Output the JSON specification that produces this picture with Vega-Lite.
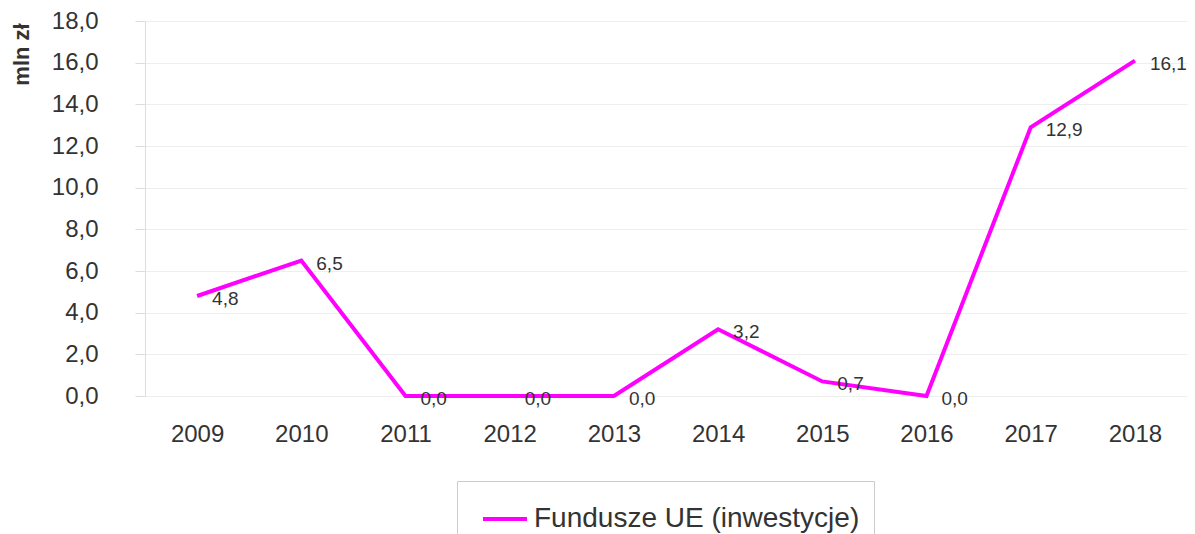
{
  "$schema": "https://vega.github.io/schema/vega-lite/v6.json",
  "width": 1042,
  "height": 375,
  "autosize": {"type": "none"},
  "padding": {"left": 145, "top": 21, "right": 8, "bottom": 138},
  "background": "white",
  "config": {
    "locale": {"number": {"decimal": ",", "thousands": " ", "grouping": [3], "currency": ["", " zł"]}},
    "font": "Liberation Sans",
    "view": {"stroke": null}
  },
  "data": {
    "values": [
      {"rok": "2009", "wartosc": 4.8, "seria": "Fundusze UE (inwestycje)"},
      {"rok": "2010", "wartosc": 6.5, "seria": "Fundusze UE (inwestycje)"},
      {"rok": "2011", "wartosc": 0.0, "seria": "Fundusze UE (inwestycje)"},
      {"rok": "2012", "wartosc": 0.0, "seria": "Fundusze UE (inwestycje)"},
      {"rok": "2013", "wartosc": 0.0, "seria": "Fundusze UE (inwestycje)"},
      {"rok": "2014", "wartosc": 3.2, "seria": "Fundusze UE (inwestycje)"},
      {"rok": "2015", "wartosc": 0.7, "seria": "Fundusze UE (inwestycje)"},
      {"rok": "2016", "wartosc": 0.0, "seria": "Fundusze UE (inwestycje)"},
      {"rok": "2017", "wartosc": 12.9, "seria": "Fundusze UE (inwestycje)"},
      {"rok": "2018", "wartosc": 16.1, "seria": "Fundusze UE (inwestycje)"}
    ]
  },
  "encoding": {
    "x": {
      "field": "rok", "type": "ordinal",
      "scale": {"type": "point", "padding": 0.5},
      "axis": {
        "title": null, "labelAngle": 0, "ticks": false, "domain": false,
        "labelFontSize": 24, "labelColor": "#333333", "labelPadding": 26
      }
    },
    "y": {
      "field": "wartosc", "type": "quantitative",
      "scale": {"domain": [0, 18], "nice": false},
      "axis": {
        "values": [0, 2, 4, 6, 8, 10, 12, 14, 16, 18],
        "format": ".1f",
        "title": "mln zł",
        "titleFontSize": 22, "titleFontWeight": "bold", "titleColor": "#333333",
        "titleAngle": -90, "titleX": -124, "titleY": 33, "titleAlign": "center", "titleBaseline": "middle",
        "labelFontSize": 24, "labelColor": "#333333", "labelPadding": 37,
        "tickSize": 10, "tickColor": "#dddddd", "domainColor": "#dddddd",
        "gridColor": "#eeeeee", "grid": true
      }
    }
  },
  "layer": [
    {
      "mark": {"type": "line", "strokeWidth": 4},
      "encoding": {
        "color": {
          "field": "seria", "type": "nominal",
          "scale": {"range": ["#FF00FF"]},
          "legend": {
            "title": null, "orient": "none", "legendX": 312, "legendY": 460,
            "symbolType": "stroke", "symbolSize": 1936, "symbolStrokeWidth": 4,
            "symbolOffset": 10, "labelFontSize": 28, "labelColor": "#333333",
            "labelOffset": 5, "labelLimit": 500,
            "padding": 14, "strokeColor": "#cccccc", "fillColor": "white"
          }
        }
      }
    },
    {
      "mark": {"type": "text", "align": "left", "baseline": "middle", "dx": 15, "dy": 3, "fontSize": 19, "color": "#333333"},
      "encoding": {
        "text": {"field": "wartosc", "type": "quantitative", "format": ".1f"}
      }
    }
  ]
}
